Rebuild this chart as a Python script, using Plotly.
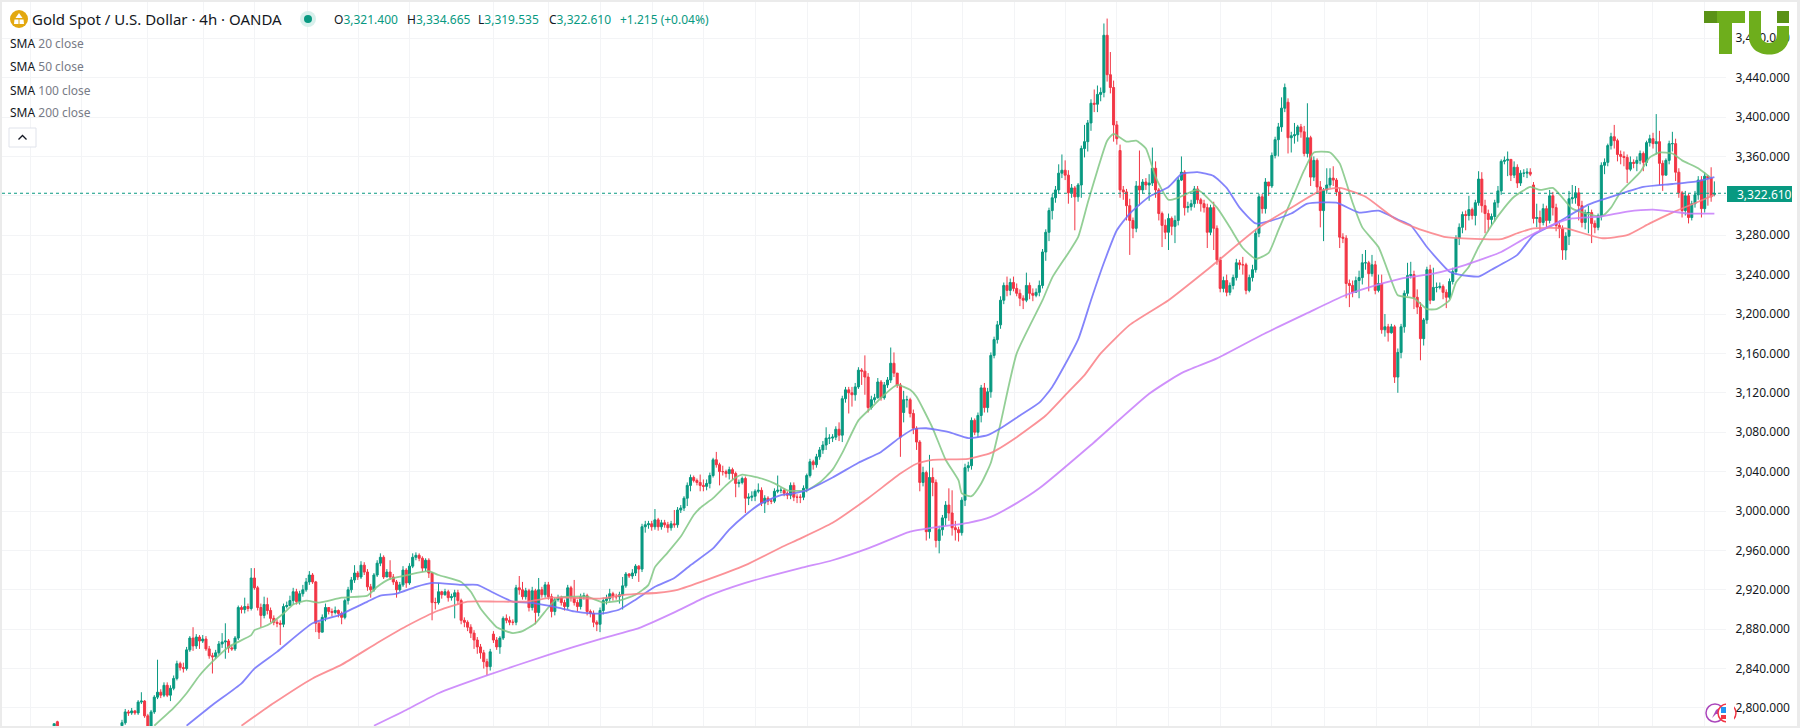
import plotly.graph_objects as go

# candles, rows follow the spans between vertical grid lines, first two bars sit apart at the left
early_bars = [-21, -20]
opens = [2779, 2786,
    2782,2785,2796,2795,2797,2795,2806,2807,
    2792,2778,2796,2811,2816,2813,2823,2813,2820,2830,2845,2841,2840,2859,2871,2863,2872,
    2868,2870,2860,2853,2852,2856,2865,2867,2868,2861,2860,2871,2902,2900,2903,2901,
    2932,2922,2902,2894,2905,2899,2891,2887,2886,2885,2903,2904,2909,2918,2908,2916,
    2920,2928,2935,2928,2886,2877,2892,2902,2898,2897,2899,2896,2892,2909,2920,2930,
    2937,2933,2945,2938,2923,2920,2935,2947,2953,2933,2938,2933,2928,2920,2925,2940,
    2927,2944,2953,2955,2952,2942,2950,2937,2907,2907,2918,2915,2918,2912,2913,2917,2909,2889,2887,2882,2876,2869,2862,2856,2847,2842,
    2875,2869,2862,2871,2891,2889,2887,2887,2922,2920,2913,2919,2902,2919,2897,2920,2915,
    2925,2913,2898,2910,2912,2907,2903,2922,2912,2907,2903,2913,2914,2898,2896,2887,
    2885,2899,2909,2911,2916,2913,2913,2915,2924,2936,2934,2937,2944,2941,2984,2986,
    2987,2984,2991,2984,2988,2986,2983,2987,2986,3001,3003,3013,3026,3034,3031,3029,
    3026,3025,3028,3036,3052,3047,3040,3040,3038,3042,3038,3028,3029,3033,3013,3014,
    3015,3020,3021,3008,3013,3010,3010,3020,3021,3021,3018,3016,3026,3014,3014,3014,
    3023,3036,3050,3047,3055,3062,3067,3074,3074,3075,3083,3077,3114,3123,3120,3118,
    3126,3143,3142,3136,3105,3113,3115,3131,3115,3128,3133,3150,3140,3128,3100,3113,
    3113,3099,3084,3070,3029,3039,2979,3034,3029,2970,2981,2993,3006,2998,2983,2981,
    2978,3011,3044,3046,3092,3080,3097,3125,3105,3121,3158,3174,3189,3214,3229,3224,
    3232,3226,3221,3216,3214,3229,3221,3219,3222,3229,3263,3283,3305,3318,3326,3343,
    3346,3341,3323,3328,3319,3331,3368,3375,3394,3414,3413,3423,3425,3483,3443,3430,
    3392,3366,3326,3324,3310,3295,3287,3330,3326,3334,3331,3333,3348,3326,3302,3290,
    3283,3297,3289,3295,3336,3344,3308,3309,3312,3327,3316,3312,3308,3283,3308,3287,
    3255,3226,3234,3222,3229,3237,3252,3250,3250,3224,3237,3245,3282,3319,3307,3334,
    3330,3361,3377,3390,3409,3415,3379,3381,3382,3390,3385,3363,3379,3339,3356,3329,
    3305,3326,3331,3338,3336,3324,3278,3277,3231,3229,3222,3234,3237,3252,3252,3241,
    3250,3224,3231,3184,3187,3181,3187,3136,3161,3187,3221,3239,3240,3217,3207,3175,
    3194,3245,3214,3227,3227,3228,3222,3217,3233,3243,3277,3288,3301,3300,3306,3300,
    3313,3337,3310,3302,3296,3299,3313,3325,3355,3356,3357,3341,3349,3333,3343,3343,
    3344,3331,3297,3298,3293,3307,3295,3320,3308,3290,3287,3265,3279,3317,3318,3323,3310,3293,3303,3303,
    3292,3288,3300,3351,3354,3371,3380,3376,3362,3360,3359,3347,3354,3353,3356,3363,3354,
    3374,3378,3373,3375,3353,3341,3356,3373,3373,3344,3323,3305,3320,3298,3312,3321,
    3336,3307,3340,3338,3321.4]
highs = [2784, 2787,
    2788,2799,2798,2800,2798,2808,2816,2808,
    2794,2798,2813,2849,2819,2826,2826,2823,2833,2848,2847,2846,2862,2873,2882,2875,2874,
    2874,2873,2863,2856,2859,2868,2876,2886,2870,2864,2873,2904,2904,2912,2906,2942,
    2942,2924,2906,2913,2912,2902,2894,2890,2889,2906,2908,2914,2922,2921,2919,2925,
    2932,2939,2937,2929,2888,2895,2906,2902,2901,2903,2900,2898,2911,2923,2933,2945,
    2939,2949,2948,2941,2926,2937,2950,2957,2955,2941,2950,2936,2930,2928,2944,2942,
    2947,2957,2958,2957,2954,2952,2952,2938,2912,2927,2919,2921,2920,2916,2920,2920,2911,2892,2889,2885,2879,2872,2865,2859,2850,2860,
    2878,2872,2873,2893,2895,2893,2890,2925,2934,2928,2922,2921,2923,2921,2932,2923,2928,
    2928,2916,2912,2915,2914,2910,2925,2924,2930,2910,2916,2917,2916,2900,2899,2889,
    2902,2912,2915,2921,2918,2916,2918,2933,2938,2937,2941,2946,2945,2987,2990,2990,
    2990,3002,2993,2991,2991,2989,2990,3001,3004,3006,3015,3029,3037,3036,3033,3037,
    3032,3032,3039,3054,3060,3049,3046,3042,3045,3044,3040,3032,3035,3035,3018,3020,
    3022,3028,3024,3016,3015,3013,3023,3036,3024,3023,3020,3029,3029,3017,3017,3026,
    3038,3053,3052,3058,3065,3071,3085,3078,3078,3086,3090,3117,3126,3126,3126,3130,
    3146,3145,3158,3140,3117,3119,3135,3133,3131,3136,3166,3161,3135,3130,3122,3117,
    3115,3103,3086,3072,3045,3041,3057,3044,3032,2985,2996,3010,3023,3021,2990,2984,
    3014,3048,3050,3095,3094,3100,3128,3130,3125,3161,3177,3193,3218,3232,3238,3236,
    3238,3231,3225,3219,3242,3232,3226,3226,3234,3266,3286,3308,3322,3330,3352,3362,
    3356,3346,3332,3330,3333,3371,3392,3397,3418,3428,3432,3430,3495,3500,3466,3437,
    3396,3372,3330,3327,3317,3298,3335,3366,3337,3338,3342,3369,3355,3328,3304,3296,
    3302,3299,3300,3339,3360,3346,3314,3316,3330,3330,3318,3316,3312,3311,3314,3290,
    3258,3238,3240,3232,3240,3256,3255,3258,3252,3240,3250,3286,3322,3322,3338,3334,
    3364,3380,3394,3420,3434,3419,3385,3394,3392,3393,3391,3414,3381,3360,3358,3335,
    3328,3348,3348,3350,3338,3328,3282,3280,3235,3234,3238,3244,3261,3265,3254,3260,
    3254,3240,3240,3200,3190,3190,3189,3165,3190,3224,3252,3253,3244,3225,3212,3196,
    3248,3250,3247,3232,3232,3230,3225,3236,3247,3280,3292,3304,3305,3320,3308,3316,
    3345,3344,3316,3306,3302,3316,3330,3357,3360,3365,3357,3355,3352,3346,3347,3348,
    3348,3334,3312,3305,3312,3310,3326,3324,3312,3295,3290,3283,3325,3331,3330,3328,3315,3306,3310,3306,
    3295,3302,3354,3358,3373,3384,3392,3378,3366,3365,3362,3360,3357,3360,3366,3365,3376,
    3382,3384,3403,3386,3356,3358,3376,3385,3378,3348,3325,3325,3322,3315,3325,3340,
    3340,3344,3341,3349,3334.665]
lows = [2775, 2775,
    2780,2783,2792,2793,2793,2793,2804,2790,
    2775,2776,2794,2809,2810,2811,2811,2807,2818,2828,2838,2836,2838,2857,2858,2860,2860,
    2866,2858,2850,2835,2850,2854,2861,2850,2856,2858,2858,2869,2896,2896,2898,2899,
    2920,2899,2882,2891,2895,2887,2884,2882,2864,2882,2901,2904,2905,2905,2905,2913,
    2918,2925,2926,2877,2870,2879,2888,2895,2893,2895,2892,2885,2890,2905,2917,2927,
    2930,2931,2935,2919,2912,2918,2933,2944,2931,2934,2930,2925,2912,2918,2923,2922,
    2925,2942,2950,2949,2938,2939,2932,2889,2900,2905,2911,2914,2908,2909,2891,2905,2885,2882,2878,2871,2860,2855,2850,2840,2833,2838,
    2866,2859,2855,2869,2886,2884,2884,2884,2915,2910,2910,2898,2899,2885,2893,2912,2912,
    2910,2892,2894,2908,2904,2899,2900,2908,2904,2898,2900,2910,2894,2892,2882,2878,
    2877,2895,2905,2908,2909,2910,2906,2900,2922,2932,2931,2934,2928,2938,2978,2982,
    2980,2981,2980,2981,2983,2978,2980,2983,2983,2998,3000,3005,3020,3029,3026,3020,
    3020,3021,3023,3034,3044,3026,3036,3034,3032,3032,3014,3024,3027,2998,3006,3010,
    3010,3018,3005,2998,3006,3007,3008,3018,3018,3015,3012,3012,3010,3008,3008,3011,
    3019,3034,3042,3044,3052,3058,3062,3068,3070,3072,3071,3070,3110,3099,3106,3112,
    3124,3128,3118,3100,3103,3110,3114,3112,3113,3125,3130,3136,3125,3055,3090,3105,
    3095,3078,3062,3020,3025,2970,2972,3015,2963,2957,2975,2985,2990,2975,2970,2969,
    2975,3005,3040,3042,3077,3075,3090,3100,3100,3115,3155,3170,3185,3210,3218,3219,
    3223,3218,3208,3205,3212,3215,3213,3217,3218,3226,3254,3274,3296,3313,3322,3338,
    3336,3312,3318,3285,3314,3318,3359,3365,3386,3405,3405,3416,3420,3436,3424,3375,
    3372,3318,3316,3295,3260,3277,3283,3310,3322,3326,3315,3330,3318,3295,3268,3276,
    3265,3280,3272,3290,3335,3300,3303,3305,3308,3312,3304,3303,3267,3280,3265,3250,
    3222,3222,3218,3219,3225,3234,3245,3240,3220,3222,3233,3242,3278,3302,3302,3320,
    3328,3358,3360,3385,3405,3363,3364,3373,3375,3379,3360,3359,3330,3335,3322,3288,
    3274,3322,3328,3330,3320,3267,3272,3216,3207,3217,3222,3216,3230,3245,3223,3238,
    3220,3222,3180,3177,3172,3180,3130,3120,3155,3181,3218,3236,3205,3200,3153,3168,
    3190,3210,3224,3222,3225,3215,3206,3215,3230,3240,3270,3282,3285,3295,3296,3290,
    3310,3303,3282,3284,3290,3294,3308,3321,3352,3340,3335,3338,3328,3330,3339,3338,
    3340,3292,3288,3285,3290,3288,3292,3300,3284,3277,3255,3255,3270,3312,3312,3295,3288,3286,3282,3272,
    3282,3285,3295,3342,3350,3367,3368,3355,3352,3350,3333,3345,3348,3345,3352,3345,3350,
    3370,3368,3362,3331,3325,3350,3352,3365,3335,3318,3298,3300,3292,3295,3308,3316,
    3298,3303,3310,3314,3319.535]
closes = [2784, 2776,
    2785,2796,2795,2797,2795,2806,2807,2792,
    2778,2796,2811,2816,2813,2823,2813,2820,2830,2845,2841,2840,2859,2871,2863,2872,2868,
    2870,2860,2853,2852,2856,2865,2867,2868,2861,2860,2871,2902,2900,2903,2901,2932,
    2922,2902,2894,2905,2899,2891,2887,2886,2885,2903,2904,2909,2918,2908,2916,2920,
    2928,2935,2928,2886,2877,2892,2902,2898,2897,2899,2896,2892,2909,2920,2930,2937,
    2933,2945,2938,2923,2920,2935,2947,2953,2933,2938,2933,2928,2920,2925,2940,2927,
    2944,2953,2955,2952,2942,2950,2937,2907,2907,2918,2915,2918,2912,2913,2917,2909,2889,2887,2882,2876,2869,2862,2856,2847,2842,2857,
    2869,2862,2871,2891,2889,2887,2887,2922,2920,2913,2919,2902,2919,2897,2920,2915,2925,
    2913,2898,2910,2912,2907,2903,2922,2912,2907,2903,2913,2914,2898,2896,2887,2885,
    2899,2909,2911,2916,2913,2913,2915,2924,2936,2934,2937,2944,2941,2984,2986,2987,
    2984,2991,2984,2988,2986,2983,2987,2986,3001,3003,3013,3026,3034,3031,3029,3026,
    3025,3028,3036,3052,3047,3040,3040,3038,3042,3038,3028,3029,3033,3013,3014,3015,
    3020,3021,3008,3013,3010,3010,3020,3021,3021,3018,3016,3026,3014,3014,3014,3023,
    3036,3050,3047,3055,3062,3067,3074,3074,3075,3083,3077,3114,3123,3120,3118,3126,
    3143,3142,3136,3105,3113,3115,3131,3115,3128,3133,3150,3140,3128,3075,3113,3113,
    3099,3084,3070,3029,3039,2979,3034,3029,2970,2981,2993,3006,2998,2983,2981,2978,
    3011,3044,3046,3092,3080,3097,3125,3105,3121,3158,3174,3189,3214,3229,3224,3232,
    3226,3221,3216,3214,3229,3221,3219,3222,3229,3263,3283,3305,3318,3326,3343,3346,
    3341,3323,3328,3319,3331,3368,3375,3394,3414,3413,3423,3425,3483,3443,3430,3392,
    3378,3326,3324,3310,3295,3287,3330,3326,3334,3331,3333,3348,3326,3302,3290,3283,
    3297,3289,3295,3336,3344,3308,3309,3312,3327,3316,3312,3308,3283,3308,3287,3255,
    3226,3234,3222,3229,3237,3252,3250,3250,3224,3237,3245,3282,3319,3307,3334,3330,
    3361,3377,3390,3409,3430,3379,3381,3382,3390,3385,3363,3379,3339,3356,3329,3305,
    3326,3331,3338,3336,3324,3278,3277,3231,3229,3222,3234,3237,3252,3252,3241,3250,
    3224,3231,3184,3187,3181,3187,3136,3161,3187,3221,3239,3240,3217,3207,3175,3194,
    3245,3214,3227,3227,3228,3222,3217,3233,3243,3277,3288,3301,3300,3306,3300,3313,
    3337,3310,3302,3296,3299,3313,3325,3355,3356,3357,3341,3349,3333,3343,3343,3344,
    3342,3297,3298,3293,3307,3295,3320,3308,3290,3287,3265,3279,3317,3318,3323,3310,3293,3303,3303,3292,
    3288,3300,3351,3354,3371,3380,3376,3362,3360,3359,3347,3354,3353,3356,3363,3354,3374,
    3378,3373,3375,3353,3341,3356,3373,3373,3344,3323,3305,3320,3298,3312,3321,3336,
    3307,3340,3338,3319,3322.61]

# moving averages, bar number and price
sma20_bar = [10,16,20,24,28,33,40,41,45,50,53,57,61,68,76,79,83,87,91,95,98,105,108,111,114,116,121,124,128,132,135,140,144,149,154,159,163,165,169,173,177,179,183,187,190,192,198,202,206,212,216,220,223,228,232,236,240,244,246,251,255,259,260,263,266,269,272,277,285,288,293,296,299,302,305,307,311,314,317,320,324,327,333,339,343,347,351,355,358,363,366,369,374,377,381,384,389,393,395,400,404,407,411,413,417,420,424,428,431,436,439,443,446,449,458,461,464,467,470,473,476,480,483,488,492]
sma20_val = [2782,2800,2815,2833,2847,2862,2874,2879,2884,2896,2905,2909,2907,2912,2914,2923,2931,2934,2937,2939,2935,2928,2918,2901,2889,2882,2876,2878,2886,2902,2912,2913,2913,2907,2909,2915,2925,2943,2958,2974,2996,3003,3013,3026,3034,3037,3033,3028,3021,3021,3029,3042,3059,3092,3105,3118,3128,3123,3116,3084,3052,3031,3018,3015,3028,3049,3089,3160,3214,3237,3262,3278,3313,3346,3376,3383,3375,3376,3368,3339,3316,3318,3326,3308,3288,3267,3256,3262,3285,3323,3346,3364,3364,3353,3313,3288,3268,3234,3219,3216,3205,3205,3214,3232,3248,3268,3290,3308,3319,3329,3326,3328,3318,3307,3299,3308,3324,3334,3344,3359,3364,3363,3356,3348,3338]
sma50_bar = [20,28,37,41,48,59,67,76,80,85,91,96,105,110,115,121,126,135,140,145,149,154,159,165,171,176,183,188,193,198,204,208,212,220,228,235,241,245,249,256,262,268,272,278,284,288,296,300,304,308,312,318,324,328,333,338,342,346,351,356,362,367,376,383,389,395,399,404,411,414,420,424,432,437,444,454,463,471,480,488,493]
sma50_val = [2782,2803,2825,2840,2857,2886,2894,2908,2914,2916,2923,2927,2925,2925,2917,2908,2907,2902,2898,2896,2896,2900,2910,2923,2932,2945,2962,2981,2996,3008,3016,3018,3021,3034,3049,3060,3075,3083,3084,3080,3074,3077,3084,3097,3110,3126,3174,3214,3252,3285,3302,3319,3329,3342,3344,3340,3328,3308,3292,3295,3302,3312,3313,3303,3305,3296,3290,3268,3243,3240,3238,3245,3260,3280,3292,3311,3321,3329,3332,3335,3339]
sma100_bar = [37,47,59,68,79,88,98,107,116,125,133,138,148,156,166,172,181,193,204,210,220,231,241,246,251,262,269,277,286,293,298,303,312,324,336,352,362,371,377,385,394,401,410,421,427,432,437,447,458,466,473,480,488,493]
sma100_val = [2782,2805,2830,2844,2866,2883,2899,2908,2908,2908,2912,2912,2911,2915,2917,2920,2930,2945,2963,2972,2988,3013,3038,3048,3052,3053,3059,3075,3097,3121,3138,3160,3189,3214,3245,3288,3308,3325,3328,3319,3297,3287,3278,3276,3276,3282,3287,3287,3277,3280,3292,3303,3314,3321]
sma200_bar = [78,88,98,113,132,148,160,171,181,193,210,220,231,244,253,262,269,277,284,300,318,328,339,353,367,378,385,396,406,416,427,435,444,449,458,466,474,480,485,493]
sma200_val = [2782,2798,2815,2833,2854,2870,2881,2897,2913,2927,2942,2950,2962,2979,2984,2988,2994,3008,3023,3067,3119,3140,3155,3179,3201,3218,3226,3236,3241,3250,3263,3278,3292,3297,3299,3304,3306,3304,3302,3302]

price_ticks = [2800 + 40 * k for k in range(18)]
grid_bars = [-28.2,-12.4,8,25.1,40.9,57.3,73.1,88.9,114.9,131.9,148,164.1,179.9,196,212.1,228.2,244.3,260.1,276.2,292,308,324.1,340.2,356,372.4,388.5,404.3,420.4,436.5,457,473.7,489.8]
last_price = 3322.61

UP, DOWN = "#089981", "#f23645"
FONT = "Noto Sans"
W, H = 1800, 728
L, R, T, B = 2, 74, 2, 2

def px(x):
    return (x - L) / (W - L - R)

def py(y):
    return 1 - (y - T) / (H - T - B)

def box(x0, y0, x1, y1, fill, line=None, kind="rect", lw=1):
    return dict(type=kind, xref="paper", yref="paper", x0=px(x0), y0=py(y0), x1=px(x1), y1=py(y1),
                fillcolor=fill, line=dict(color=line or fill, width=lw if line else 0), layer="above")

def path(points, fill, line=None, lw=1):
    # points are tuples of command letter and pixel pairs, "L" takes one pair per command in plotly
    parts = []
    for p in points:
        if p == "Z":
            parts.append("Z")
        elif p[0] == "L":
            parts.extend(f"L{px(a):.5f},{py(b):.5f}" for a, b in p[1:])
        else:
            parts.append(p[0] + " ".join(f"{px(a):.5f},{py(b):.5f}" for a, b in p[1:]))
    return dict(type="path", xref="paper", yref="paper", path=" ".join(parts), fillcolor=fill,
                line=dict(color=line or fill, width=lw if line else 0), layer="above")

def label(x, y, text, size=12, color="#131722", anchor="left"):
    return dict(xref="paper", yref="paper", x=px(x), y=py(y), text=text, showarrow=False, xanchor=anchor,
                yanchor="middle", font=dict(family=FONT, size=size, color=color), borderpad=0, borderwidth=0)

bars = early_bars + list(range(len(closes) - len(early_bars)))

fig = go.Figure()
fig.add_trace(go.Candlestick(x=bars, open=opens, high=highs, low=lows, close=closes,
                             increasing=dict(line=dict(color=UP, width=1), fillcolor=UP),
                             decreasing=dict(line=dict(color=DOWN, width=1), fillcolor=DOWN),
                             whiskerwidth=0, showlegend=False, hoverinfo="skip"))
for xs, ys, col in [(sma20_bar, sma20_val, "#81c784"), (sma50_bar, sma50_val, "#6f6ffb"),
                    (sma100_bar, sma100_val, "#fb7f86"), (sma200_bar, sma200_val, "#c77dfb")]:
    fig.add_trace(go.Scatter(x=xs, y=ys, mode="lines", line=dict(color=col, width=1.8, shape="spline", smoothing=0.5),
                             opacity=0.85, showlegend=False, hoverinfo="skip"))

shapes = [
    dict(type="line", xref="paper", yref="y", x0=0, x1=1, y0=last_price, y1=last_price, layer="above",
         line=dict(color=UP, width=1, dash="dot")),
    # window edges
    box(0, 0, W, 2, "#ebebeb"), box(0, 0, 2, H, "#ebebeb"), box(0, 726, W, H, "#ebebeb"), box(1797, 0, W, H, "#ebebeb"),
    # header icons
    box(10, 10, 28, 28, "#e3a80f", kind="circle"),
    path([("M", (19, 13)), ("L", (22.5, 18), (15.5, 18)), "Z"], "white"),
    path([("M", (14.5, 19.5)), ("L", (18.5, 19.5), (18.5, 24), (14, 24)), "Z"], "white"),
    path([("M", (19.5, 19.5)), ("L", (23.5, 19.5), (24, 24), (19.5, 24)), "Z"], "white"),
    box(300, 11, 316, 27, "#d8f0ec", kind="circle"),
    box(304, 15, 312, 23, UP, kind="circle"),
    # collapse button
    box(9, 128, 36, 147, "white", line="#e0e3eb"),
    path([("M", (18.5, 139.5)), ("L", (22.5, 135.5), (26.5, 139.5))], "rgba(0,0,0,0)", line="#131722", lw=1.3),
    # TU logo
    box(1704, 11, 1717, 23, "#5a9216"),
    box(1717, 11, 1745, 23, "#6eae1c"),
    box(1719, 11, 1732, 54, "#6eae1c"),
    path([("M", (1749, 11)), ("L", (1749, 36)), ("C", (1749, 49), (1759, 54.5), (1769, 54.5)),
          ("C", (1779, 54.5), (1789, 49), (1789, 36)), ("L", (1789, 26), (1777, 26), (1777, 36)),
          ("C", (1777, 40), (1773, 43), (1769, 43)), ("C", (1765, 43), (1761, 40), (1761, 36)),
          ("L", (1761, 11)), "Z"], "#6eae1c"),
    box(1777, 11, 1789, 23, "#5a9216"),
    # last price tag
    box(1727, 186, 1792, 202, UP),
    # small event icons bottom right
    box(1706, 704, 1724, 722, "white", line="#ab47bc", kind="circle", lw=1.5),
    path([("M", (1712, 718)), ("L", (1716, 710), (1719, 708), (1718, 712), (1720, 714), (1716, 714)), "Z"], "#ab47bc"),
    box(1718, 704, 1736, 722, "white", line="#f23645", kind="circle", lw=1.5),
    box(1721, 707, 1726, 713, "#2196f3"),
    box(1721, 715, 1726, 719, "#f23645"),
    box(1726, 702, 1734, 724, "white"),
]

annotations = [
    label(32, 19, "Gold Spot / U.S. Dollar · 4h · OANDA", size=15),
    label(334, 19, f'O<span style="color:{UP}">3,321.400</span>', size=12),
    label(407, 19, f'H<span style="color:{UP}">3,334.665</span>', size=12),
    label(478, 19, f'L<span style="color:{UP}">3,319.535</span>', size=12),
    label(549, 19, f'C<span style="color:{UP}">3,322.610</span>', size=12),
    label(620, 19, "+1.215 (+0.04%)", size=12, color=UP),
    label(1737, 194, "3,322.610", size=12, color="white"),
]
for y, name in zip([43, 66, 90, 113], ["20", "50", "100", "200"]):
    annotations.append(label(10, y, f'SMA <span style="color:#787b86">{name} close</span>', size=12))

fig.update_layout(
    width=W, height=H, margin=dict(l=L, r=R, t=T, b=B), paper_bgcolor="white", plot_bgcolor="white",
    showlegend=False, hovermode=False, shapes=shapes, annotations=annotations, boxmode="overlay", boxgap=0.1,
    xaxis=dict(range=[-37.15, 496.6], tickvals=grid_bars, showticklabels=False, ticks="", showgrid=True,
               gridcolor="#f3f4f6", gridwidth=1, zeroline=False, showline=False, rangeslider=dict(visible=False)),
    yaxis=dict(range=[2781.7, 3516.8], side="right", tickvals=price_ticks, tickformat=",.3f", ticks="outside",
               ticklen=6, tickcolor="white", showgrid=True, gridcolor="#f3f4f6", gridwidth=1, zeroline=False,
               showline=False, tickfont=dict(family=FONT, size=12, color="#131722")),
)
# the page body keeps the browser default margin otherwise and pushes the chart 8px off
fig.write_html("out.html", config=dict(displayModeBar=False), post_script="document.body.style.margin='0';")
